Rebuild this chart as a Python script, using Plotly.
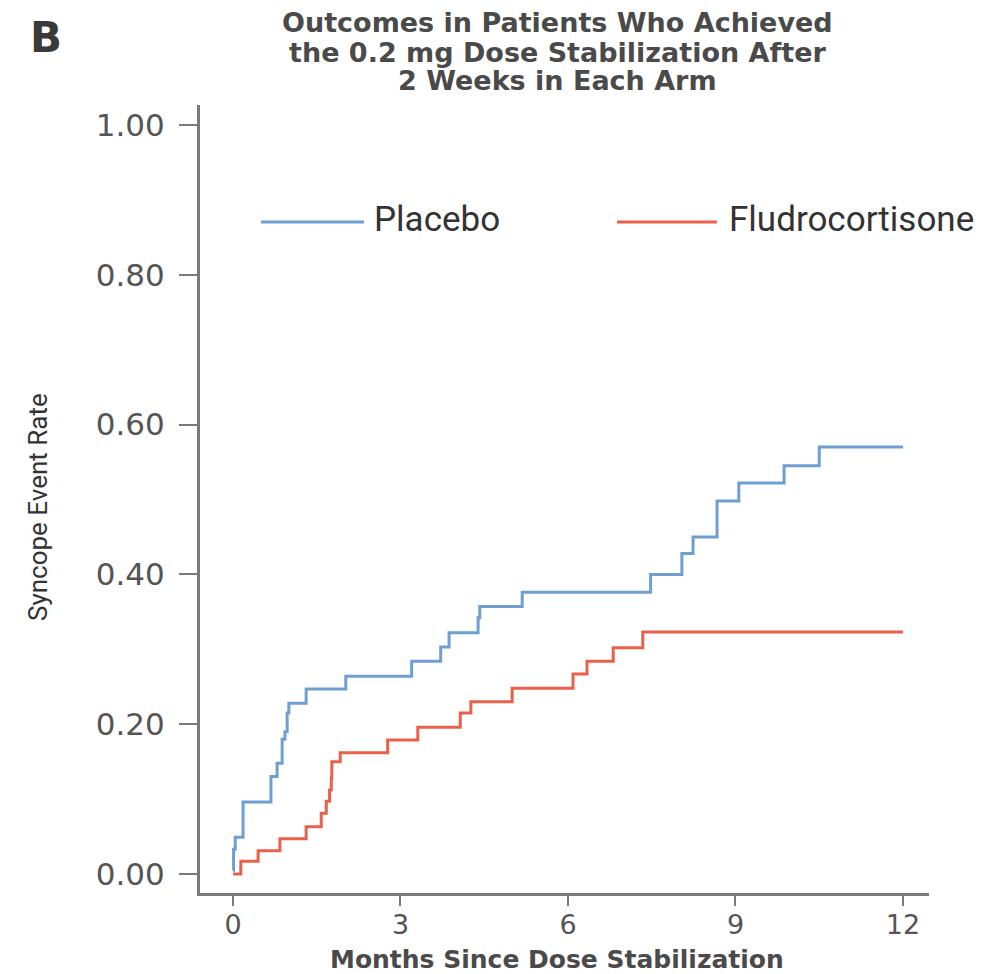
import plotly.graph_objects as go

# Placebo step curve (months, cumulative syncope event rate)
placebo_t = [0, 0.01, 0.04, 0.18, 0.68, 0.79, 0.88, 0.93, 0.97, 1.0, 1.31, 2.02,
             3.2, 3.72, 3.87, 4.39, 4.42, 5.18, 7.48, 8.04, 8.24, 8.67, 9.06,
             9.87, 10.5, 12]
placebo_r = [0.005, 0.033, 0.049, 0.096, 0.13, 0.148, 0.18, 0.19, 0.215, 0.228,
             0.247, 0.264, 0.284, 0.303, 0.322, 0.342, 0.357, 0.376, 0.40, 0.428,
             0.45, 0.498, 0.522, 0.545, 0.570, 0.570]

# Fludrocortisone step curve
fludro_t = [0, 0.14, 0.45, 0.84, 1.31, 1.58, 1.67, 1.73, 1.76, 1.77, 1.92, 2.77,
            3.31, 4.07, 4.26, 5.0, 6.09, 6.34, 6.81, 7.34, 12]
fludro_r = [0.0, 0.017, 0.031, 0.047, 0.063, 0.081, 0.097, 0.112, 0.128, 0.15,
            0.162, 0.179, 0.196, 0.215, 0.23, 0.248, 0.267, 0.284, 0.302, 0.323,
            0.323]

x_ticks = [0, 3, 6, 9, 12]
y_ticks = [0.0, 0.2, 0.4, 0.6, 0.8, 1.0]
series_names = ["Placebo", "Fludrocortisone"]
title_lines = ["Outcomes in Patients Who Achieved",
               "the 0.2 mg Dose Stabilization After",
               "2 Weeks in Each Arm"]

BLUE = "#6f9fd2"
RED = "#e9604b"
AXIS = "#7a7a7a"
TEXT = "#4a4a4a"

fig = go.Figure()
fig.add_trace(go.Scatter(x=placebo_t, y=placebo_r, mode="lines", line_shape="hv",
                         line=dict(color=BLUE, width=3), name=series_names[0],
                         showlegend=False))
fig.add_trace(go.Scatter(x=fludro_t, y=fludro_r, mode="lines", line_shape="hv",
                         line=dict(color=RED, width=3), name=series_names[1],
                         showlegend=False))

fig.update_layout(
    width=1000, height=974,
    margin=dict(l=200, r=71, t=105, b=81),
    paper_bgcolor="white", plot_bgcolor="white",
    xaxis=dict(range=[-0.591, 12.466], tickvals=x_ticks, ticktext=[str(v) for v in x_ticks],
               showgrid=False, zeroline=False, showline=True, linecolor=AXIS, linewidth=3,
               ticks="outside", ticklen=10, tickwidth=2, tickcolor=AXIS,
               ticklabelstandoff=-4,
               tickfont=dict(family="DejaVu Sans", size=27, color="#555555")),
    yaxis=dict(range=[-0.0254, 1.0267], tickvals=y_ticks,
               ticktext=[f"{v:.2f}" for v in y_ticks],
               showgrid=False, zeroline=False, showline=True, linecolor=AXIS, linewidth=3,
               ticks="outside", ticklen=18, tickwidth=2, tickcolor=AXIS,
               ticklabelstandoff=8,
               tickfont=dict(family="DejaVu Sans", size=31, color="#555555")),
    showlegend=False,
)

# Title lines
for txt, yp in zip(title_lines, [1.105, 1.067, 1.031]):
    fig.add_annotation(text=f"<b>{txt}</b>", xref="paper", yref="paper", x=0.49, y=yp,
                       xanchor="center", yanchor="middle", showarrow=False,
                       font=dict(family="DejaVu Sans", size=27, color=TEXT))

# Panel letter
fig.add_annotation(text="<b>B</b>", xref="paper", yref="paper", x=-0.211, y=1.086,
                   xanchor="center", yanchor="middle", showarrow=False,
                   font=dict(family="DejaVu Sans", size=42, color="#3a3a3a"))

# Axis titles
fig.add_annotation(text="<b>Months Since Dose Stabilization</b>", xref="paper", yref="paper",
                   x=0.49, y=-0.0845, xanchor="center", yanchor="middle", showarrow=False,
                   font=dict(family="DejaVu Sans", size=25, color=TEXT))
fig.add_annotation(text="Syncope Event Rate", xref="paper", yref="paper",
                   x=-0.222, y=0.49, xanchor="center", yanchor="middle", showarrow=False,
                   textangle=-90,
                   font=dict(family="Roboto", size=26, color="#333333"))

# Legend (line + label)
legend_items = [(series_names[0], BLUE, 0.0837, 0.225, 0.236),
                (series_names[1], RED, 0.572, 0.709, 0.723)]
for name, col, x0, x1, xt in legend_items:
    fig.add_shape(type="line", xref="paper", yref="paper", x0=x0, x1=x1, y0=0.8515, y1=0.8515,
                  line=dict(color=col, width=3))
    fig.add_annotation(text=name, xref="paper", yref="paper", x=xt, y=0.855,
                       xanchor="left", yanchor="middle", showarrow=False,
                       font=dict(family="Roboto", size=35, color="#333333"))

fig.write_html("out.html", config={"displayModeBar": False},
               post_script="document.body.style.margin='0px';document.body.style.padding='0px';")
